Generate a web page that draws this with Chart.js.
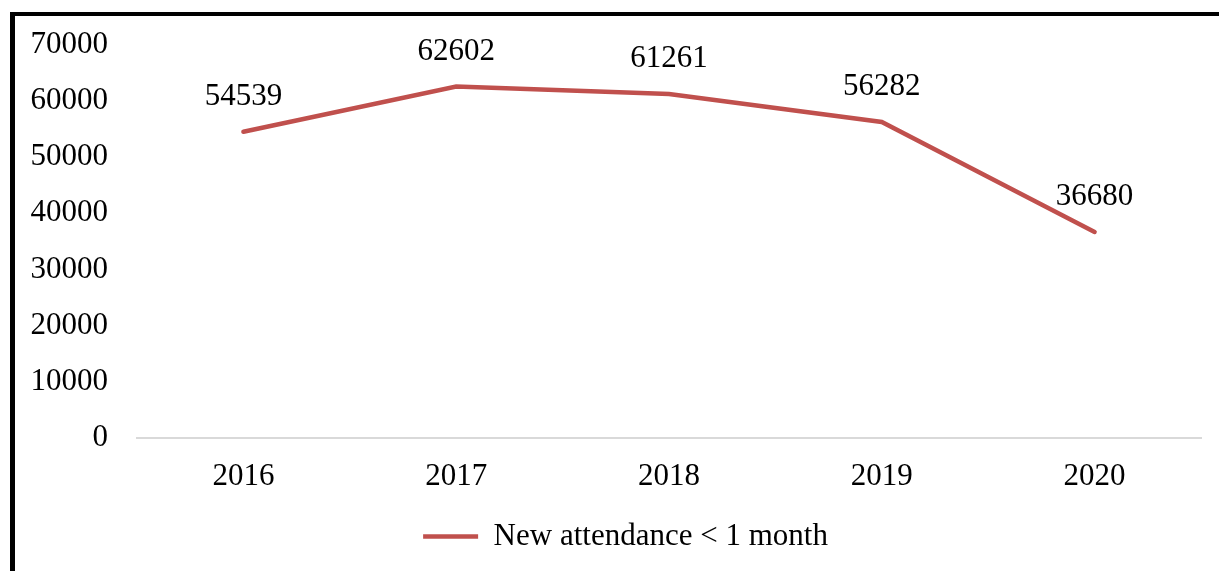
<!DOCTYPE html>
<html>
<head>
<meta charset="utf-8">
<script src="https://cdn.jsdelivr.net/npm/chart.js@4/dist/chart.umd.min.js"></script>
<style>
  html, body { margin: 0; padding: 0; background: #fff; overflow: hidden; }
  #wrap { position: absolute; left: 0; top: 0; width: 1219px; height: 571px; }
  #frame {
    position: absolute; left: 10px; top: 12px; width: 1300px; height: 700px;
    border-left: 5px solid #000; border-top: 4px solid #000; pointer-events: none;
  }
</style>
</head>
<body>
<div id="wrap"><canvas id="chart"></canvas></div>
<div id="frame"></div>
<script>
const years = ['2016', '2017', '2018', '2019', '2020'];
const newAttendance = [54539, 62602, 61261, 56282, 36680];
const seriesLabel = 'New attendance < 1 month';

const serif = "'Liberation Serif', 'Times New Roman', serif";
const lineColor = '#C0504D';

// value labels above each point
const valueLabels = {
  id: 'valueLabels',
  afterDatasetsDraw(chart) {
    const ctx = chart.ctx;
    const meta = chart.getDatasetMeta(0);
    ctx.save();
    ctx.font = '31px ' + serif;
    ctx.fillStyle = '#000';
    ctx.textAlign = 'center';
    ctx.textBaseline = 'middle';
    meta.data.forEach((pt, i) => {
      ctx.fillText(String(newAttendance[i]), pt.x, pt.y - 35);
    });
    ctx.restore();
  }
};

// legend sits a bit right of the canvas centre in the original
const legendShift = {
  id: 'legendShift',
  afterLayout(chart) {
    chart.legend.left += 25;
    chart.legend.right += 25;
  }
};

new Chart(document.getElementById('chart'), {
  type: 'line',
  data: {
    labels: years,
    datasets: [{
      label: seriesLabel,
      data: newAttendance,
      borderColor: lineColor,
      backgroundColor: lineColor,
      borderWidth: 4.5,
      pointRadius: 0,
      tension: 0,
      borderCapStyle: 'round'
    }]
  },
  options: {
    responsive: true,
    maintainAspectRatio: false,
    animation: false,
    layout: { padding: { left: 0, right: 18, top: 45, bottom: 9 } },
    scales: {
      x: {
        offset: true,
        grid: { display: false },
        border: { display: true, color: '#d9d9d9', width: 2 },
        ticks: { color: '#000', font: { family: serif, size: 31 }, padding: 12 }
      },
      y: {
        min: 0,
        max: 70000,
        grid: { display: false },
        border: { display: false },
        ticks: {
          stepSize: 10000, color: '#000', font: { family: serif, size: 31 }, padding: 21,
          callback: (v) => String(v)
        },
        afterFit(scale) { scale.width = 137; }
      }
    },
    plugins: {
      tooltip: { enabled: false },
      legend: {
        position: 'bottom',
        labels: {
          color: '#000',
          font: { family: serif, size: 31 },
          usePointStyle: true,
          pointStyle: 'line',
          pointStyleWidth: 55,
          padding: 14
        }
      }
    }
  },
  plugins: [valueLabels, legendShift]
});
</script>
</body>
</html>
